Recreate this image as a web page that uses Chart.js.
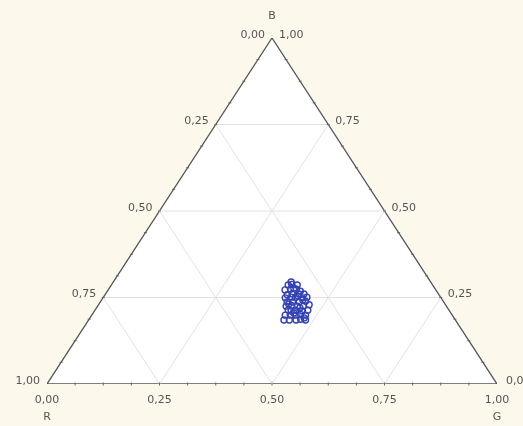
<!DOCTYPE html>
<html>
<head>
<meta charset="utf-8">
<script src="https://cdn.jsdelivr.net/npm/chart.js@4.4.0/dist/chart.umd.min.js"></script>
<style>
html,body{margin:0;padding:0;background:#fcf8ec;}
#wrap{width:523px;height:426px;position:relative;}
</style>
</head>
<body>
<div id="wrap"><canvas id="c" width="523" height="426"></canvas></div>
<script>
// Ternary data (fractions of R, G, B per sample)
const R = [0.310,0.321,0.312,0.301,0.335,0.322,0.309,0.303,0.337,0.325,0.310,0.299,0.346,0.331,0.322,0.308,0.297,0.348,0.336,0.321,0.306,0.356,0.343,0.331,0.318,0.303,0.352,0.341,0.327,0.314,0.371,0.360,0.347,0.336,0.326,0.381,0.369,0.354,0.343,0.333,0.313,0.315,0.347,0.328,0.349,0.333,0.357,0.310];
const G = [0.395,0.393,0.400,0.413,0.393,0.404,0.417,0.429,0.405,0.414,0.430,0.441,0.405,0.418,0.427,0.443,0.452,0.415,0.427,0.442,0.455,0.419,0.430,0.444,0.457,0.468,0.437,0.446,0.462,0.473,0.430,0.441,0.454,0.463,0.475,0.434,0.446,0.461,0.470,0.482,0.410,0.431,0.422,0.452,0.446,0.476,0.429,0.447];
const B = [0.295,0.286,0.288,0.286,0.272,0.274,0.274,0.268,0.258,0.261,0.260,0.260,0.249,0.251,0.251,0.249,0.251,0.237,0.237,0.237,0.239,0.225,0.227,0.225,0.225,0.229,0.211,0.213,0.211,0.213,0.199,0.199,0.199,0.201,0.199,0.185,0.185,0.185,0.187,0.185,0.277,0.254,0.231,0.220,0.205,0.191,0.214,0.243];

const tickValues = [0, 0.25, 0.5, 0.75, 1];
const tickLabels = ['0,00', '0,25', '0,50', '0,75', '1,00'];
const gridLevels = [0.25, 0.5, 0.75];
const minorStep = 0.0625;
const vertexNames = ['R', 'G', 'B'];

// ternary (g, b) -> cartesian chart units
function tern(g, b) { return { x: g + b / 2, y: b }; }

const points = R.map((r, i) => tern(G[i], B[i]));
const triangle = [tern(0, 0), tern(1, 0), tern(0, 1), tern(0, 0)];

const gridSegments = [];
gridLevels.forEach(v => {
  gridSegments.push([tern(0, v), tern(1 - v, v)]);      // constant B
  gridSegments.push([tern(v, 0), tern(v, 1 - v)]);      // constant G
  gridSegments.push([tern(1 - v, 0), tern(0, 1 - v)]);  // constant R
});

const ternaryLabels = {
  id: 'ternaryLabels',
  afterDatasetsDraw(chart) {
    const ctx = chart.ctx;
    const xs = chart.scales.x, ys = chart.scales.y;
    const px = p => ({ x: xs.getPixelForValue(p.x), y: ys.getPixelForValue(p.y) });
    ctx.save();
    ctx.strokeStyle = '#666';
    ctx.lineWidth = 1;
    for (let t = minorStep; t < 1 - 1e-9; t += minorStep) {
      const a = px(tern(t, 0));
      const l = px(tern(0, t));
      const r = px(tern(1 - t, t));
      ctx.beginPath();
      ctx.moveTo(a.x, a.y - 1.5); ctx.lineTo(a.x, a.y + 1.5);
      ctx.moveTo(l.x - 1.5, l.y); ctx.lineTo(l.x + 1.5, l.y);
      ctx.moveTo(r.x - 1.5, r.y); ctx.lineTo(r.x + 1.5, r.y);
      ctx.stroke();
    }
    ctx.fillStyle = '#555';
    ctx.font = '11px "DejaVu Sans", sans-serif';
    ctx.textBaseline = 'middle';
    tickValues.forEach((v, i) => {
      const a = px(tern(v, 0));
      ctx.textAlign = 'center';
      ctx.fillText(tickLabels[i], a.x, a.y + 16);
      const l = px(tern(0, 1 - v));
      ctx.textAlign = 'right';
      ctx.fillText(tickLabels[i], l.x - 7, l.y - 3);
      const r = px(tern(1 - v, v));
      ctx.textAlign = 'left';
      ctx.fillText(tickLabels[i], r.x + (v === 0 ? 9 : 7), r.y - 3);
    });
    ctx.textAlign = 'center';
    const vr = px(tern(0, 0)), vg = px(tern(1, 0)), vb = px(tern(0, 1));
    ctx.fillText(vertexNames[0], vr.x, vr.y + 33);
    ctx.fillText(vertexNames[1], vg.x, vg.y + 33);
    ctx.fillText(vertexNames[2], vb.x, vb.y - 22);
    ctx.restore();
  }
};

const datasets = [
  {
    label: 'samples', data: points, order: 1,
    pointStyle: 'circle', pointRadius: 3, pointHoverRadius: 3,
    borderColor: '#3342b4', borderWidth: 1.4,
    backgroundColor: 'rgba(255,255,255,0)', showLine: false
  }
];
gridSegments.forEach((seg, i) => datasets.push({
  label: 'grid' + i, data: seg, order: 2, showLine: true,
  borderColor: '#e2e2e2', borderWidth: 1, pointRadius: 0, fill: false
}));
datasets.push({
  label: 'triangle', data: triangle, order: 3, showLine: true,
  borderColor: '#555', borderWidth: 1.3, pointRadius: 0,
  backgroundColor: '#ffffff', fill: 'shape'
});

new Chart(document.getElementById('c'), {
  type: 'scatter',
  data: { datasets },
  options: {
    responsive: false,
    animation: false,
    layout: { padding: { left: 47, right: 26, top: 38, bottom: 42 } },
    scales: {
      x: { type: 'linear', min: 0, max: 1, display: false },
      y: { type: 'linear', min: 0, max: 1, display: false }
    },
    plugins: { legend: { display: false }, tooltip: { enabled: false } }
  },
  plugins: [ternaryLabels]
});
</script>
</body>
</html>
